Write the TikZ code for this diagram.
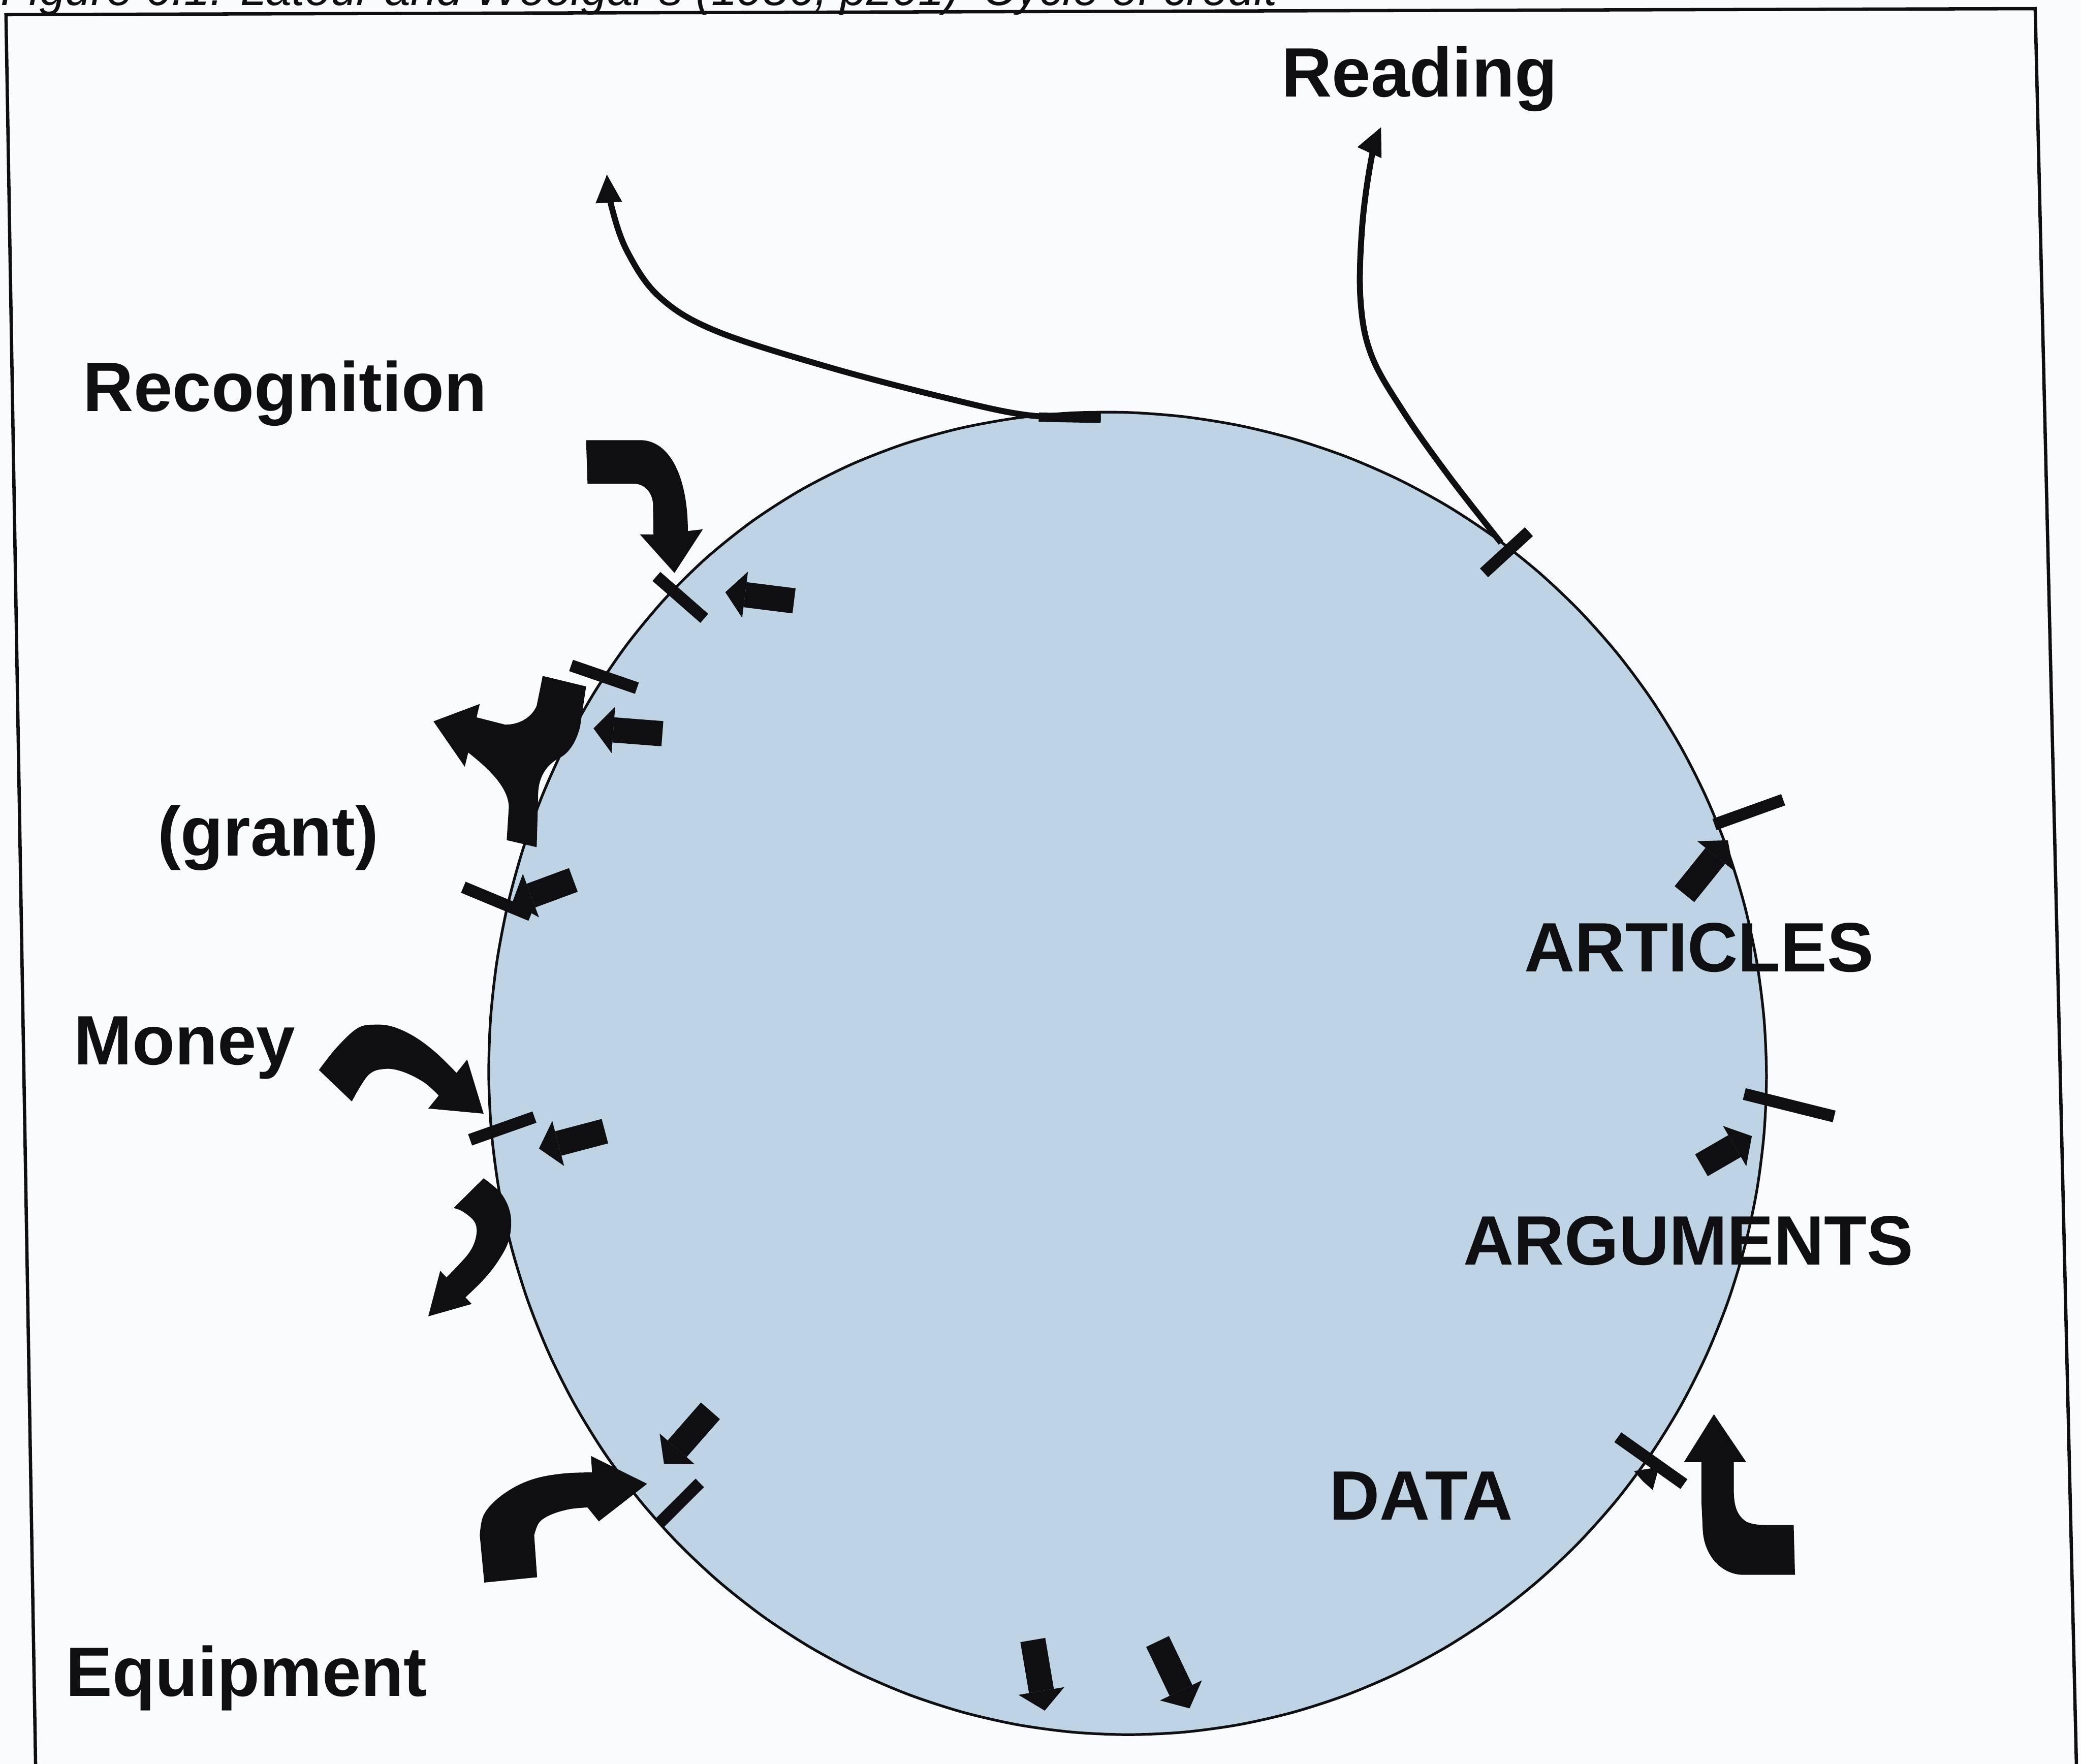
\documentclass[tikz,border=0pt]{standalone}
\usepackage{fontspec}
\setmainfont{Liberation Sans}
\usetikzlibrary{arrows.meta}
\definecolor{disc}{RGB}{190,212,228}
\definecolor{paper}{RGB}{250,251,253}
\definecolor{ink}{RGB}{15,15,18}
\begin{document}
\begin{tikzpicture}[x=0.01cm,y=-0.01cm,
  lbl/.style={font=\fontsize{14.97pt}{17pt}\selectfont\bfseries, inner sep=0pt, anchor=base west, text=ink},
  capt/.style={font=\fontsize{9.96pt}{12pt}\selectfont\itshape, inner sep=0pt, anchor=base west, text=ink},
  tickmark/.style={line width=0.09cm, draw=ink},
  thinarrow/.style={line width=0.045cm, draw=ink, -{Triangle[length=0.21cm,width=0.2cm,line width=0pt]}},
  smallarrow/.style={line width=0.19cm, draw=ink, -{Triangle[length=0.15cm,width=0.35cm,line width=0pt]}},
  bigarrow/.style={fill=ink},
  frameline/.style={line width=0.025cm, draw=ink},
]
\useasboundingbox (0,0) rectangle (1568,1329);
\clip (0,0) rectangle (1568,1329);
\fill[paper] (0,0) rectangle (1568,1329);

% caption (cut off at the top of the scan)
\node[capt] (caption) at (0,4) {Figure 6.1: Latour and Woolgar's (1986, p201) `Cycle of credit'};

% frame
\draw[frameline] (27,1340) -- (4.5,11) -- (1533.5,6.5) -- (1564.8,1340);

% the disc
\path[fill=disc, draw=ink, line width=0.02cm] plot[smooth cycle, domain=0:355, samples=72, variable=\t]
  ({850+(481+14*exp(-((\t-125)/32)*((\t-125)/32)))*cos(\t)},
   {811-(496+14*exp(-((\t-125)/32)*((\t-125)/32)))*sin(\t)});

% thin arrows leaving the top
\draw[thinarrow] plot[smooth, tension=0.6] coordinates {(829.4,315.2) (773.7,312.7) (713.6,300) (623.3,276.3) (539.1,249.2) (497,223.8) (472.9,190) (460.9,156.1) (457.3,131.6)};
\draw[line width=0.07cm, draw=ink] (782.7,314.3) -- (829.4,315.2);
\draw[thinarrow] plot[smooth, tension=0.6] coordinates {(1131,409) (1091.4,358.3) (1057.5,310.3) (1033.5,268) (1025.1,225.7) (1026.5,169.3) (1033.5,118.5) (1040.6,95.9)};

% tick marks on the disc boundary
\draw[tickmark] (1118.2,431.6) -- (1152,400.6);
\draw[tickmark] (494.6,434.3) -- (530.7,465.9);
\draw[tickmark] (430.3,501.4) -- (479.9,518.5);
\draw[tickmark] (349.1,668.5) -- (399.9,689.6);
\draw[tickmark] (354.2,858.8) -- (402.7,841.7);
\draw[tickmark] (1291.8,621.2) -- (1343.6,602.6);
\draw[tickmark] (1314.3,824.3) -- (1382,841.2);
\draw[tickmark] (496.9,1147.6) -- (527.3,1117.3);
\draw[tickmark] (1219,1082.9) -- (1268.8,1118.2);

% small straight block arrows
\draw[smallarrow] (598.3,452.7) -- (546.5,446.2);
\draw[smallarrow] (499.1,552.8) -- (447.2,548.8);
\draw[smallarrow] (432,663) -- (386,680);
\draw[smallarrow] (455.8,852.3) -- (406.1,865.4);
\draw[smallarrow] (1269.2,673.7) -- (1301.9,633.1);
\draw[smallarrow] (1282,878) -- (1320,856);
\draw[smallarrow] (535.3,1063) -- (500.3,1102.9);
\draw[smallarrow] (778.2,1235.7) -- (787.2,1288.9);
\draw[smallarrow] (872.2,1236.8) -- (896.3,1287.2);

% arrowhead on the disc outline near DATA
\fill[ink] (1250,1105.4) -- (1231.2,1108.4) -- (1237.8,1116) -- (1245.3,1122.7) -- cycle;

% big bent arrows
% Recognition
\fill[bigarrow] (441.6,331.6) -- (482.2,331.6) .. controls (505,331.6) and (518.3,360) .. (518.3,400.1)
  -- (529.6,398.8) -- (508.2,431.7) -- (482.2,402.7) -- (492.4,402.7) -- (492,379)
  .. controls (491,370) and (485,364.5) .. (477.7,364.5) -- (442.7,364.5) -- cycle;
% forked arrow towards (grant)
\fill[bigarrow] (326.6,543.5) -- (361.5,530.4) -- (359.1,540.5) -- (380.7,546)
  .. controls (392,546) and (401,540) .. (404.4,531.7) -- (408.9,509.3) -- (441.6,517.2) -- (437.1,547.5)
  .. controls (434,560) and (428,568) .. (421.3,571.2) .. controls (412,576) and (406,585) .. (405.5,597.5)
  -- (404.4,638.3) -- (381.8,633) -- (383.4,608) .. controls (383,595) and (372,582) .. (352.8,567)
  -- (350.2,577.7) -- cycle;
% Money
\fill[bigarrow] plot[smooth, tension=0.6] coordinates {(240.3,806.2) (253.8,789.1) (269.6,774.6) (283.2,772) (296.7,773.8) (312.5,781.2) (328.3,793) (344,808.4)}
  -- (352,798.3) -- (364.4,839.1) -- (322.7,835.2) -- (330.6,825.4)
  -- plot[smooth, tension=0.6] coordinates {(330.6,825.4) (319.3,815.4) (303.5,807.5) (290,805.4) (277.5,810.1) (265.1,829.9)} -- cycle;
% below Money, pointing down-left
\fill[bigarrow] plot[smooth, tension=0.6] coordinates {(364.4,887.8) (377.9,899.6) (384.7,915.4) (383.6,933.8) (375.7,949.6) (364.4,964.1) (350.7,977.5)}
  -- (355.4,982.5) -- (322.7,991.8) -- (331.7,957.5)
  -- plot[smooth, tension=0.6] coordinates {(336.4,962.5) (353.1,944.4) (358.8,931.2) (357.6,920.7) (348.6,912.8) (341.8,910.2)} -- cycle;
% Equipment
\fill[bigarrow] (364.9,1192.4) -- (404.7,1188.4)
  -- plot[smooth, tension=0.6] coordinates {(402.5,1156.8) (406.4,1147) (415.7,1141) (429.2,1137.1) (442.7,1135.8)}
  -- (451.2,1146.3) -- (487.6,1118) -- (445.3,1097)
  -- plot[smooth, tension=0.6] coordinates {(446.1,1109.4) (425.8,1110.1) (405.5,1113.4) (388.6,1120) (373.4,1130.5) (364.1,1142.3) (361.5,1156.8)} -- cycle;
% DATA side, pointing up
\fill[bigarrow] (1291.4,1065.6) -- (1315.8,1101.7) -- (1306.4,1101.7) -- (1306.4,1122.7)
  .. controls (1306.4,1135) and (1309,1142) .. (1315.8,1146.5) .. controls (1320,1148.5) and (1325,1149) .. (1330,1149)
  -- (1351.5,1149) -- (1352.5,1186.6) -- (1313.9,1186.6)
  .. controls (1297,1186.6) and (1284,1172) .. (1283,1152.8) -- (1282,1131.7) -- (1282,1101.7) -- (1268.8,1101.7) -- cycle;

% labels
\node[lbl] (recognition) at (62,310) {Recognition};
\node[lbl] (grant) at (118,645) {(grant)};
\node[lbl] (money) at (55,802) {Money};
\node[lbl] (equipment) at (49,1278) {Equipment};
\node[lbl] (reading) at (965,73) {Reading};
\node[lbl] (articles) at (1148,732) {ARTICLES};
\node[lbl] (arguments) at (1102,953) {ARGUMENTS};
\node[lbl] (data) at (1001,1145) {DATA};
\end{tikzpicture}
\end{document}
